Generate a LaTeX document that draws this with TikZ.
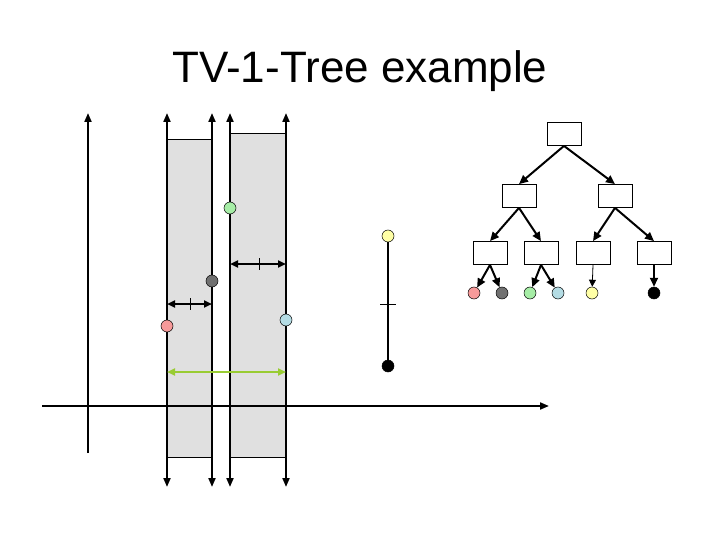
\documentclass[tikz,border=0pt]{standalone}
\usepackage{fontspec}
\setmainfont{Liberation Sans}
\usetikzlibrary{arrows.meta}
\definecolor{stripgray}{HTML}{E0E0E0}
\definecolor{ptred}{HTML}{F79A9A}
\definecolor{ptgray}{HTML}{707070}
\definecolor{ptgreen}{HTML}{A6EDA6}
\definecolor{ptblue}{HTML}{B4DCE4}
\definecolor{ptyellow}{HTML}{FFFFA6}
\definecolor{spanline}{HTML}{99CC33}

\tikzset{
  tip/.style={-{Triangle[length=9pt,width=8pt]}},
  axisline/.style={line width=2pt, -{Triangle[length=9pt,width=7pt]}},
  boundline/.style={line width=2pt, {Triangle[length=9pt,width=7pt]}-{Triangle[length=9pt,width=7pt]}},
  gapline/.style={line width=2pt, {Triangle[length=8pt,width=7pt]}-{Triangle[length=8pt,width=7pt]}},
  stripbox/.style={fill=stripgray, draw=black, line width=0.8pt},
  pt/.style={circle, draw=black, line width=0.5pt, minimum size=12pt, inner sep=0pt},
  treebox/.style={draw=black, line width=0.8pt, fill=white, minimum width=34pt, minimum height=23pt, inner sep=0pt},
  edge/.style={line width=2pt, tip},
  thinedge/.style={line width=0.8pt, -{Triangle[length=7pt,width=7pt]}},
}

\begin{document}
\begin{tikzpicture}[x=1pt, y=-1pt]
  \useasboundingbox (0,0) rectangle (720,540);

  \node[anchor=base, font=\fontsize{44}{48}\selectfont] (title) at (360,83) {TV-1-Tree example};

  % shaded strips
  \draw[stripbox] (167,139) rectangle (212,457);
  \draw[stripbox] (230,133) rectangle (286,457);

  % axes
  \coordinate (ybot) at (88,453);
  \coordinate (ytop) at (88,113);
  \coordinate (xleft) at (42,406);
  \coordinate (xright) at (549,406);
  \draw[axisline] (ybot) -- (ytop);
  \draw[axisline] (xleft) -- (xright);

  % strip boundaries
  \foreach \x/\name in {167/a, 212/b, 230/c, 286/d} {
    \coordinate (\name top) at (\x,113);
    \coordinate (\name bot) at (\x,487);
    \draw[boundline] (\name bot) -- (\name top);
  }

  % widths
  \coordinate (wcl) at (230,264);
  \coordinate (wcr) at (286,264);
  \draw[gapline] (wcl) -- (wcr);
  \draw[line width=0.6pt] (259,258) -- (259,270);
  \coordinate (wal) at (167,304);
  \coordinate (war) at (212,304);
  \draw[gapline] (wal) -- (war);
  \draw[line width=0.6pt] (190,298) -- (190,310);
  \coordinate (sl) at (167,372);
  \coordinate (sr) at (286,372);
  \draw[gapline, draw=spanline, fill=spanline] (sl) -- (sr);

  % points
  \node[pt, fill=ptgreen] (green) at (230,208) {};
  \node[pt, fill=ptgray] (dgray) at (212,281) {};
  \node[pt, fill=ptred] (red) at (167,326) {};
  \node[pt, fill=ptblue] (blue) at (286,320) {};
  \node[pt, fill=black] (black) at (388,366) {};
  \draw[line width=2pt, -{Triangle[length=8pt,width=7pt]}] (black) -- (388,231);
  \node[pt, fill=ptyellow] (yellow) at (388,236) {};
  \draw[line width=0.6pt] (380,304) -- (396,304);

  % tree
  \node[treebox] (root) at (564,134) {};
  \node[treebox] (l) at (519,196) {};
  \node[treebox] (r) at (615,196) {};
  \node[treebox] (ll) at (490,253) {};
  \node[treebox] (lr) at (541,253) {};
  \node[treebox] (rl) at (593,253) {};
  \node[treebox] (rr) at (654,253) {};
  \node[pt, fill=ptred] (t1) at (474,293) {};
  \node[pt, fill=ptgray] (t2) at (502,293) {};
  \node[pt, fill=ptgreen] (t3) at (530,293) {};
  \node[pt, fill=ptblue] (t4) at (558,293) {};
  \node[pt, fill=ptyellow] (t5) at (592,293) {};
  \node[pt, fill=black] (t6) at (654,293) {};

  \draw[edge] (root.south) -- (l.north);
  \draw[edge] (root.south) -- (r.north);
  \draw[edge] (l.south) -- (ll.north);
  \draw[edge] (l.south) -- (lr.north);
  \draw[edge] (r.south) -- (rl.north);
  \draw[edge] (r.south) -- (rr.north);
  \draw[edge] (ll.south) -- (t1);
  \draw[edge] (ll.south) -- (t2);
  \draw[edge] (lr.south) -- (t3);
  \draw[edge] (lr.south) -- (t4);
  \draw[thinedge] (rl.south) -- (t5);
  \draw[edge] (rr.south) -- (t6);
\end{tikzpicture}
\end{document}
